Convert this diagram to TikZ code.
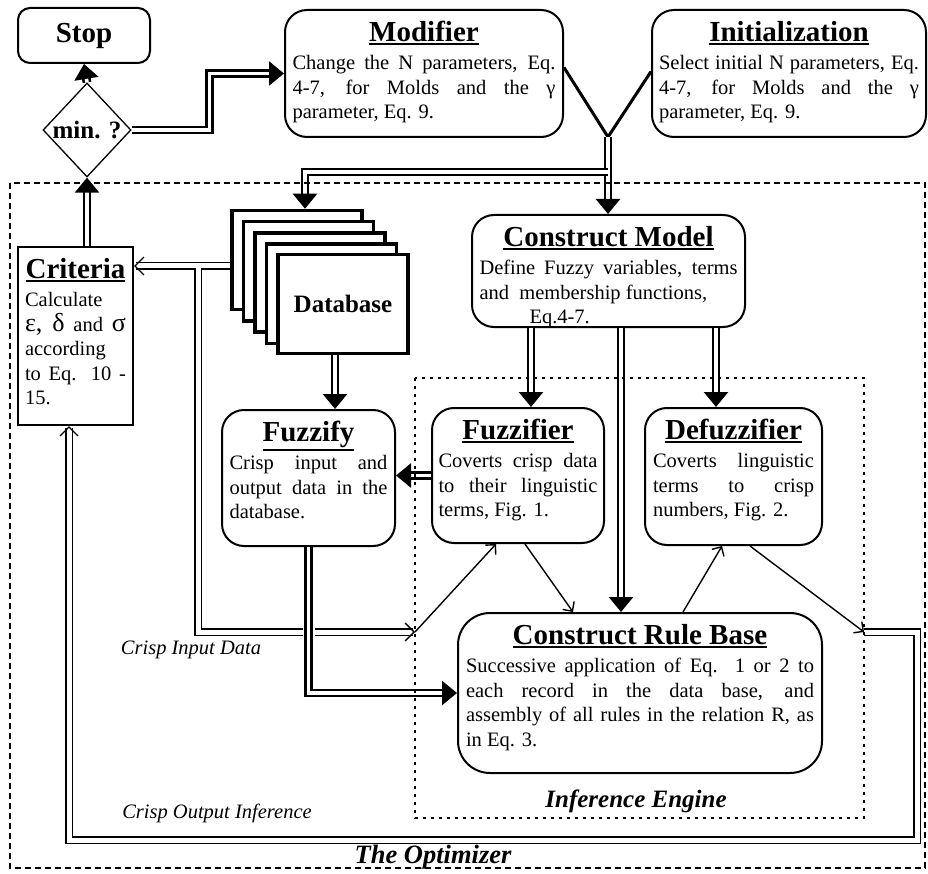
\documentclass[tikz,border=0pt]{standalone}
\usepackage{fontspec}
\setmainfont{Liberation Serif}
\usetikzlibrary{shapes.geometric,arrows.meta}
\newcommand\bodyfont{\fontsize{20.5}{24.5}\selectfont}
\newcommand\ttl[1]{\leavevmode{\fontsize{29}{30}\selectfont\bfseries\setbox0\hbox{#1}\vtop{\copy0\kern1.5pt\hrule height 2.2pt width \wd0}}}
\newcommand\fl[1]{\makebox[\hsize][s]{#1}}
\newcommand\gk[1]{{\fontsize{26}{26}\selectfont #1}}
\newcommand\boxtext[4]{\parbox[c][#1][t]{#2}{\vspace*{7pt}\centering\ttl{#3}\par\vspace{4pt}\raggedright\bodyfont #4\par}}
\begin{document}
\begin{tikzpicture}[x=1pt,y=-1pt,
  rbox/.style={draw,line width=2pt,rounded corners=22pt,inner sep=4pt},
  dbbox/.style={draw,line width=3.5pt,fill=white,minimum width=130pt,minimum height=99pt},
  dblk/.style={double,line width=2.6pt,double distance=3.6pt,-{Triangle[length=15pt,width=24pt]}},
  dbln/.style={double,line width=1.2pt,double distance=5pt,-{Straight Barb[length=9pt,width=18pt,line width=1.3pt]}},
  thn/.style={line width=1.4pt,-{Straight Barb[length=7pt,width=14pt]}},
  lbl/.style={font=\bodyfont\itshape},
  ttlfr/.style={font=\fontsize{25}{25}\selectfont\bfseries\itshape}]
\useasboundingbox (0,0) rectangle (928,874);
\node[rbox,rounded corners=12pt,minimum width=132pt,minimum height=55pt,font=\fontsize{29}{30}\selectfont\bfseries] (stop) at (84,35.5) {Stop};
\node[diamond,draw,line width=1.3pt,minimum width=88pt,minimum height=94pt,inner sep=0pt] (mn) at (87,130) {\makebox[0pt]{\fontsize{25}{25}\selectfont\bfseries min. ?}};
\node[rbox,minimum width=278pt] (mod) at (424,73.5) {\boxtext{119pt}{263pt}{Modifier}{\fl{Change the N parameters, Eq.}\\\fl{4-7, for Molds and the γ}\\parameter, Eq. 9.}};
\node[rbox,minimum width=274pt] (init) at (789,73.5) {\boxtext{119pt}{260pt}{Initialization}{\fl{Select initial N parameters, Eq.}\\\fl{4-7, for Molds and the γ}\\parameter, Eq. 9.}};
\node[draw,line width=2pt,inner sep=4pt,minimum width=115pt] (crit) at (75.5,336) {\boxtext{170pt}{101pt}{Criteria}{Calculate\\\fl{\gk{ε,} \gk{δ} and \gk{σ}}\\according\\\fl{to Eq. 10 -}\\15.}};
\foreach \i in {0,...,3} \node[dbbox] (d\i) at (297+11.5*\i,260+11.25*\i) {};
\node[dbbox,font=\fontsize{25}{25}\selectfont\bfseries] (db) at (343,304) {Database};
\node[rbox,minimum width=273pt] (cm) at (608.5,271) {\boxtext{104pt}{258pt}{Construct Model}{\fl{Define Fuzzy variables, terms}\\and\ \ membership functions,\\\hspace*{50pt}Eq.4-7.}};
\node[rbox,minimum width=173pt] (fz) at (308.5,478) {\boxtext{128pt}{158pt}{Fuzzify}{\fl{Crisp input and}\\\fl{output data in the}\\database.}};
\node[rbox,minimum width=172pt] (fzr) at (518,475.5) {\boxtext{127pt}{159pt}{Fuzzifier}{\fl{Coverts crisp data}\\\fl{to their linguistic}\\terms, Fig. 1.}};
\node[rbox,minimum width=177pt] (dfz) at (733.5,476.5) {\boxtext{129pt}{161pt}{Defuzzifier}{\fl{Coverts linguistic}\\\fl{terms to crisp}\\numbers, Fig. 2.}};
\node[rbox,rounded corners=32pt,minimum width=364pt] (rb) at (640,693) {\boxtext{152pt}{348pt}{Construct Rule Base}{\fl{Successive application of Eq. 1 or 2 to}\\\fl{each record in the data base, and}\\\fl{assembly of all rules in the relation R, as}\\in Eq. 3.}};
\coordinate (yj) at (608,137);
\coordinate (cj) at (198,268.5);
\coordinate (cin) at (415,632);
\coordinate (cout) at (864,632);
\draw[dblk] (mn.north) -- (stop.south);
\draw[dblk] (crit.north -| mn.south) -- (mn.south);
\draw[dblk] (mn.east) -- ++(78,0) |- (mod.west);
\draw[line width=3pt] ([yshift=6pt]mod.east) -- (yj) -- ([yshift=2pt]init.west);
\draw[dblk] (yj) -- (yj |- cm.north);
\draw[dblk] (yj |- 0,172) -| ([xshift=8pt]d0.north);
\draw[dblk] (db.south -| 335,0) -- (fz.north -| 335,0);
\draw[dblk] (cm.south -| 531,0) -- (fzr.north -| 531,0);
\draw[dblk] (cm.south -| 621,0) -- (rb.north -| 621,0);
\draw[dblk] (cm.south -| 716,0) -- (dfz.north -| 716,0);
\draw[dblk] (fzr.west) -- (fzr.west -| fz.east);
\draw[dbln] (d0.west |- 0,266) -- (crit.east |- 0,266);
\draw[dbln] (cj) |- (cin);
\draw[dblk,preaction={draw=white,line width=12pt,-,shorten <=4pt,shorten >=4pt}] (fz.south) |- (rb.west);
\draw[thn] (cin) -- (fzr.south -| 496,0);
\draw[thn] (fzr.south -| 525,0) -- (rb.north -| 573,0);
\draw[thn] (rb.north -| 683,0) -- (dfz.south -| 722,0);
\draw[thn] (dfz.south -| 750,0) -- (cout);
\draw[dbln] (cout) -| (917,840) -| (crit.south -| 69,0);
\draw[line width=1.3pt,dash pattern=on 6pt off 4pt] (10,183) rectangle (925,868);
\draw[line width=2.5pt,dash pattern=on 3pt off 5pt] (415,378) rectangle (864,818);
\node[lbl] (cid) at (191,650) {Crisp Input Data};
\node[lbl] (coi) at (217,813) {Crisp Output Inference};
\node[ttlfr] (ie) at (636,801) {Inference Engine};
\node[ttlfr,font=\fontsize{26.5}{27}\selectfont\bfseries\itshape] (opt) at (433,857) {The Optimizer};
\end{tikzpicture}
\end{document}
